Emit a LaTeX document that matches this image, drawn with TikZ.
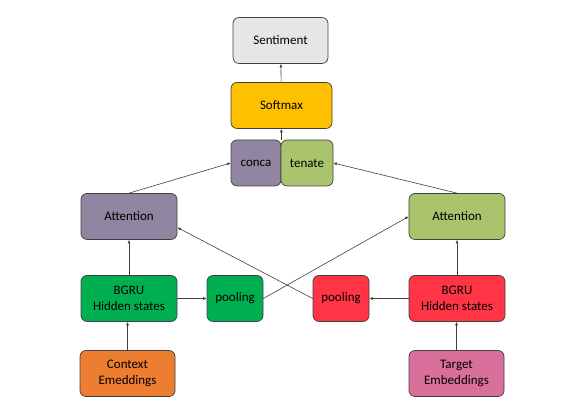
\documentclass[tikz,border=0pt]{standalone}
\usepackage{fontspec}
\setmainfont{Carlito}
\usepackage{tikz}
\usetikzlibrary{positioning,arrows.meta,calc}
\definecolor{edgegray}{RGB}{64,64,64}
\definecolor{sentgray}{RGB}{231,230,230}
\definecolor{softamber}{RGB}{255,192,0}
\definecolor{attnpurple}{RGB}{144,134,162}
\definecolor{attngreen}{RGB}{169,196,108}
\definecolor{gruegreen}{RGB}{0,176,80}
\definecolor{grured}{RGB}{255,53,70}
\definecolor{ctxorange}{RGB}{237,125,49}
\definecolor{tgtpink}{RGB}{217,112,155}
\tikzset{
  blockbox/.style={draw=edgegray,line width=0.7pt,rounded corners=6pt,align=center,inner sep=0pt,
    font=\fontsize{13}{16}\selectfont,minimum height=46pt},
  widebox/.style={blockbox,minimum width=96pt},
  poolbox/.style={blockbox,minimum width=56pt},
  halfbox/.style={blockbox,minimum width=51pt},
  flow/.style={-{Latex[length=3.5pt,width=3pt]},line width=0.6pt,draw=edgegray},
}
\begin{document}
\begin{tikzpicture}[x=1pt,y=1pt]
  \useasboundingbox (0,0) rectangle (581,411);
  % output side
  \node[widebox,fill=sentgray,minimum width=95pt] (sent) at (280.5,370.5) {Sentiment};
  \node[widebox,fill=softamber,minimum width=101pt] (soft) at (281.5,305.5) {Softmax};
  \node[halfbox,fill=attnpurple,minimum width=50pt] (conca) at (256,248) {conca};
  \node[halfbox,fill=attngreen,minimum width=52pt] (tenate) at (307,248) {tenate};
  % attention layer
  \node[widebox,fill=attnpurple] (lattn) at (129,194.5) {Attention};
  \node[widebox,fill=attngreen] (rattn) at (457,194.5) {Attention};
  % recurrent layer
  \node[widebox,fill=gruegreen] (lgru) at (129,112.5) {BGRU\\Hidden states};
  \node[poolbox,fill=gruegreen] (lpool) at (235,112.5) {pooling};
  \node[poolbox,fill=grured] (rpool) at (341,112.5) {pooling};
  \node[widebox,fill=grured] (rgru) at (457,112.5) {BGRU\\Hidden states};
  % inputs
  \node[widebox,fill=ctxorange,minimum width=95pt] (ctx) at (127.5,37.5) {Context\\Emeddings};
  \node[widebox,fill=tgtpink,minimum width=95pt] (tgt) at (456.5,37.5) {Target\\Embeddings};
  % arrows
  \draw[flow] (ctx.north) -- (ctx.north |- lgru.south);
  \draw[flow] (tgt.north) -- (tgt.north |- rgru.south);
  \draw[flow] (lgru) -- (lattn);
  \draw[flow] (rgru) -- (rattn);
  \draw[flow] (lgru) -- (lpool);
  \draw[flow] (rgru) -- (rpool);
  \draw[flow] (lpool.east) -- (rattn.west);
  \draw[flow] (rpool.west) -- ([yshift=-11pt]lattn.east);
  \draw[flow] (lattn.north) -- (conca.west);
  \draw[flow] (rattn.north) -- (tenate.east);
  \draw[flow] (conca.north east) -- (conca.north east |- soft.south);
  \draw[flow] (soft) -- (sent);
\end{tikzpicture}
\end{document}
